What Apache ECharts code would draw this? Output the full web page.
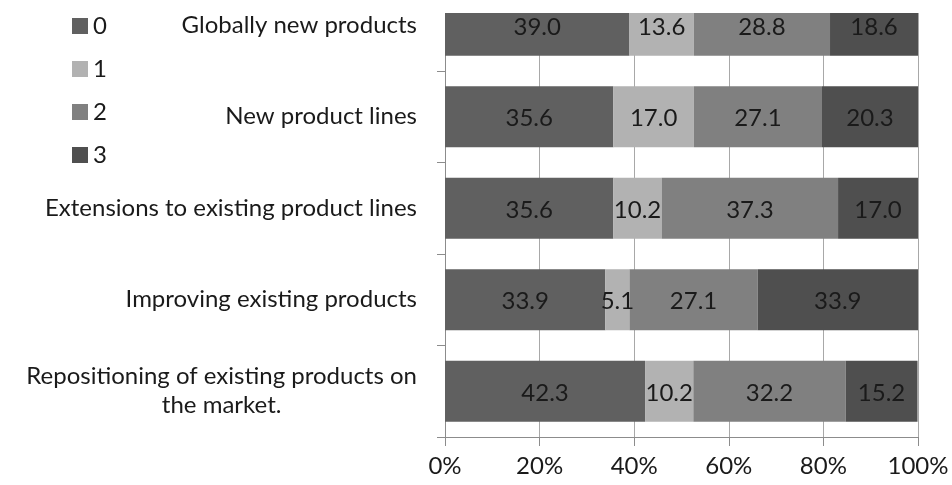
<!DOCTYPE html>
<html>
<head>
<meta charset="utf-8">
<script src="https://cdn.jsdelivr.net/npm/echarts@6/dist/echarts.min.js"></script>
<style>
html, body { margin: 0; padding: 0; background: #fff; }
#chart { width: 952px; height: 485px; }
</style>
</head>
<body>
<div id="chart"></div>
<script>
// Product innovation categories (top to bottom)
const categories = [
  'Globally new products',
  'New product lines',
  'Extensions to existing product lines',
  'Improving existing products',
  'Repositioning of existing products on\nthe market.'
];
const seriesNames = ['0', '1', '2', '3'];
// Share of responses (%) per score
const score0 = [39.0, 35.6, 35.6, 33.9, 42.3];
const score1 = [13.6, 17.0, 10.2, 5.1, 10.2];
const score2 = [28.8, 27.1, 37.3, 27.1, 32.2];
const score3 = [18.6, 20.3, 17.0, 33.9, 15.2];
const xTicks = [0, 20, 40, 60, 80, 100];

const colors = ['#606060', '#b2b2b2', '#808080', '#4f4f4f'];
const font = 'Lato, "Open Sans", sans-serif';
const textColor = '#1a1a1a';
const fs = 24;

const chart = echarts.init(document.getElementById('chart'));
const values = [score0, score1, score2, score3];

chart.setOption({
  animation: false,
  textStyle: { fontFamily: font },
  legend: {
    orient: 'vertical',
    left: 67,
    top: 9,
    itemWidth: 16,
    itemHeight: 16,
    itemGap: 19,
    icon: 'rect',
    data: seriesNames,
    textStyle: { fontFamily: font, fontSize: fs, lineHeight: 24, color: textColor }
  },
  grid: { left: 445, right: 34, top: -20.5, bottom: 48, containLabel: false, outerBoundsMode: 'none' },
  xAxis: {
    type: 'value',
    min: xTicks[0],
    max: xTicks[xTicks.length - 1],
    interval: 20,
    axisLine: { show: true, lineStyle: { color: '#8c8c8c' } },
    axisTick: { show: true, length: 9, lineStyle: { color: '#8c8c8c' } },
    splitLine: { show: true, lineStyle: { color: '#a8a8a8', width: 1 } },
    axisLabel: { formatter: '{value}%', fontSize: fs, color: textColor, margin: 17, fontFamily: font }
  },
  yAxis: {
    type: 'category',
    inverse: true,
    data: categories,
    axisLine: { show: true, lineStyle: { color: '#8c8c8c' } },
    axisTick: { show: true, length: 8, lineStyle: { color: '#8c8c8c' } },
    axisLabel: {
      margin: 28,
      fontSize: fs,
      color: textColor,
      fontFamily: font,
      lineHeight: 29,
      formatter: v => v.split('\n').map(l => '{c|' + l + '}').join('\n'),
      rich: { c: { align: 'center', fontSize: fs, color: textColor, fontFamily: font, lineHeight: 29 } }
    }
  },
  series: seriesNames.map((name, i) => ({
    name: name,
    type: 'bar',
    stack: 'total',
    barWidth: 61,
    data: values[i],
    itemStyle: { color: colors[i] },
    label: {
      show: true,
      position: 'inside',
      offset: [0, 2],
      formatter: p => p.value.toFixed(1),
      fontSize: fs,
      fontFamily: font,
      color: textColor
    }
  })),
  // plot area ends at y = 13; blank the overflow above it
  graphic: [{
    type: 'rect',
    z: 100,
    shape: { x: 430, y: -40, width: 530, height: 53 },
    style: { fill: '#fff' }
  }]
});
</script>
</body>
</html>
